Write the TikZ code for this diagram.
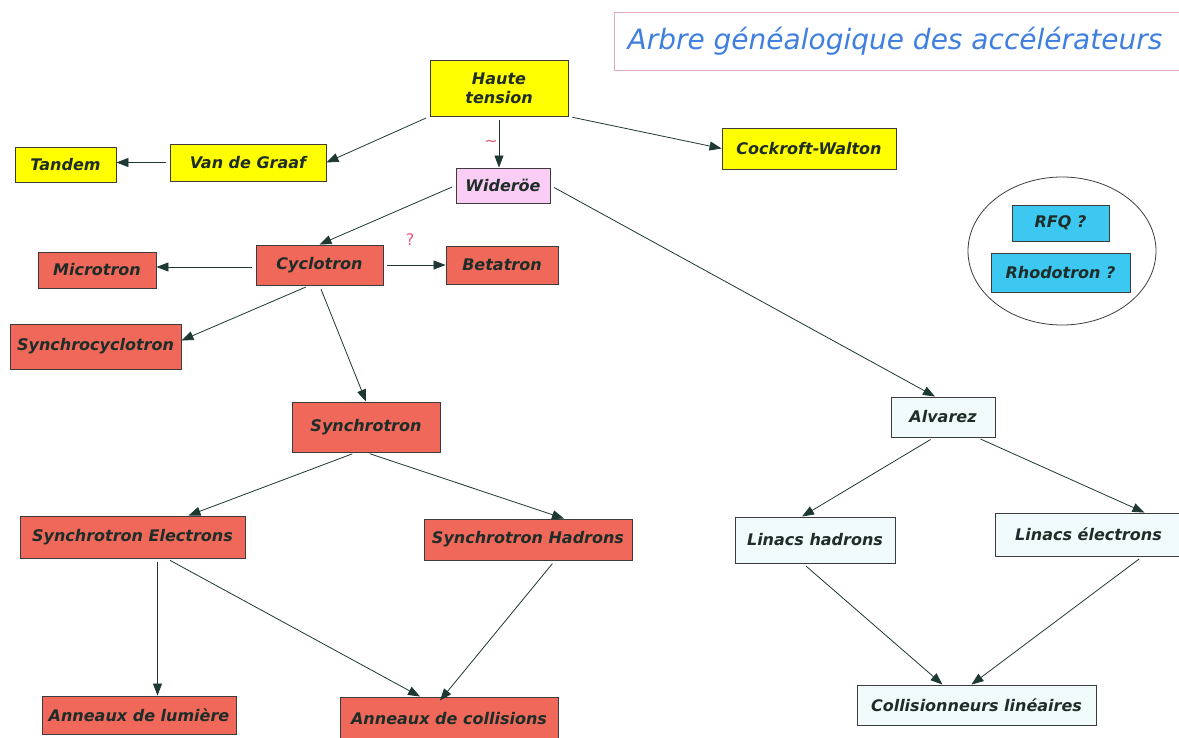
\documentclass[tikz,border=0pt]{standalone}
\usepackage{fontspec}
\setmainfont{DejaVu Sans}
\usetikzlibrary{arrows.meta,calc}
\definecolor{yel}{RGB}{255,255,0}
\definecolor{red1}{RGB}{240,104,90}
\definecolor{pnk}{RGB}{250,205,245}
\definecolor{cyn}{RGB}{60,200,240}
\definecolor{wht}{RGB}{242,251,251}
\definecolor{txt}{RGB}{30,45,40}
\definecolor{arr}{RGB}{30,56,52}
\definecolor{brd}{RGB}{60,60,60}
\definecolor{ttl}{RGB}{63,127,224}
\definecolor{ttlbrd}{RGB}{225,170,195}
\definecolor{annot}{RGB}{235,90,120}
\tikzset{
  box/.style={draw=brd, line width=0.9pt, inner sep=0pt, text=txt,
    font=\fontsize{16}{19}\selectfont\bfseries\itshape, align=center},
  ybox/.style={box, fill=yel},
  rbox/.style={box, fill=red1},
  pbox/.style={box, fill=pnk},
  cbox/.style={box, fill=cyn},
  wbox/.style={box, fill=wht},
  link/.style={draw=arr, line width=0.8pt, -{Triangle[length=12pt,width=9pt]}, shorten <=4pt},
  note/.style={text=annot, font=\fontsize{16}{16}\selectfont},
}
\begin{document}
\begin{tikzpicture}[x=1pt,y=-1pt]
\useasboundingbox (0,0) rectangle (1179,738);
\fill[white] (0,0) rectangle (1179,738);
% title
\node[draw=ttlbrd, line width=0.8pt, minimum width=568, minimum height=58, inner sep=0] (titlebox) at (898,41) {};
\node[text=ttl, font=\fontsize{28}{32}\selectfont\itshape] (title) at (895,41) {Arbre généalogique des accélérateurs};
% nodes
\node[ybox, minimum width=138, minimum height=56] (haute) at (499,88) {Haute\\tension};
\node[ybox, minimum width=156, minimum height=37] (vdg) at (248,162.5) {Van de Graaf};
\node[ybox, minimum width=101, minimum height=35] (tandem) at (65.5,164.5) {Tandem};
\node[ybox, minimum width=174, minimum height=41] (cock) at (809,148.5) {Cockroft-Walton};
\node[pbox, minimum width=94, minimum height=35] (wid) at (503,185.5) {Wideröe};
\node[rbox, minimum width=127, minimum height=40] (cyc) at (319.5,265) {Cyclotron};
\node[rbox, minimum width=118, minimum height=36] (micro) at (97,270) {Microtron};
\node[rbox, minimum width=112, minimum height=38] (bet) at (502,265) {Betatron};
\node[rbox, minimum width=171, minimum height=45] (syncc) at (95.5,346.5) {Synchrocyclotron};
\node[rbox, minimum width=148, minimum height=50] (syn) at (366,427) {Synchrotron};
\node[rbox, minimum width=225, minimum height=42] (se) at (132.5,537) {Synchrotron Electrons};
\node[rbox, minimum width=208, minimum height=41] (sh) at (528,539.5) {Synchrotron Hadrons};
\node[rbox, minimum width=194, minimum height=38] (al) at (139,715) {Anneaux de lumière};
\node[rbox, minimum width=218, minimum height=43] (ac) at (449,718.5) {Anneaux de collisions};
\node[wbox, minimum width=104, minimum height=40] (alv) at (943,417) {Alvarez};
\node[wbox, minimum width=160, minimum height=46] (lh) at (815,540) {Linacs hadrons};
\node[wbox, minimum width=187, minimum height=43] (le) at (1088.5,534.5) {Linacs électrons};
\node[wbox, minimum width=239, minimum height=40] (cl) at (976.5,705) {Collisionneurs linéaires};
% ellipse group
\draw[draw=brd, line width=0.8pt] (1062,251) ellipse [x radius=94, y radius=74];
\node[cbox, minimum width=97, minimum height=36] (rfq) at (1060.5,223) {RFQ ?};
\node[cbox, minimum width=139, minimum height=39] (rho) at (1060.5,272.5) {Rhodotron ?};
% annotations
\node[note] (tilde) at (491,143) {\char"007E};
\node[note] (qm) at (410,240) {?};
% helper coordinates
\coordinate (cycw) at ($(cyc.west)+(0,2)$);
\coordinate (sesl) at ($(se.south)+(25,0)$);
% connectors
\draw[link] (haute.south west) -- (vdg.east);
\draw[link] (haute.south) -- (haute.south |- wid.north);
\draw[link] (haute.south east) -- (cock.west);
\draw[link] (vdg.west) -- (vdg.west -| tandem.east);
\draw[link] (wid.west) -- (cyc.north);
\draw[link] (wid.east) -- ($(alv.north)+(-8,0)$);
\draw[link] (cycw) -- (cycw -| micro.east);
\draw[link] (cyc.east) -- (cyc.east -| bet.west);
\draw[link] ($(cyc.south)+(-10,0)$) -- ($(syncc.east)+(0,-6)$);
\draw[link] (cyc.south) -- (syn.north);
\draw[link] ($(syn.south)+(-10,0)$) -- ($(se.north)+(56,0)$);
\draw[link] (syn.south) -- ($(sh.north)+(36,0)$);
\draw[link] (sesl) -- (sesl |- al.north);
\draw[link] ($(se.south)+(34,0)$) -- ($(ac.north)+(-29,0)$);
\draw[link] ($(sh.south)+(27,0)$) -- ($(ac.north)+(-9,4)$);
\draw[link] ($(alv.south)+(-9,0)$) -- ($(lh.north)+(-13,0)$);
\draw[link] ($(alv.south)+(34,0)$) -- ($(le.north)+(56,0)$);
\draw[link] ($(lh.south)+(-12,0)$) -- ($(cl.north)+(-34,0)$);
\draw[link] ($(le.south)+(54,0)$) -- ($(cl.north)+(-5,0)$);
\end{tikzpicture}
\end{document}
